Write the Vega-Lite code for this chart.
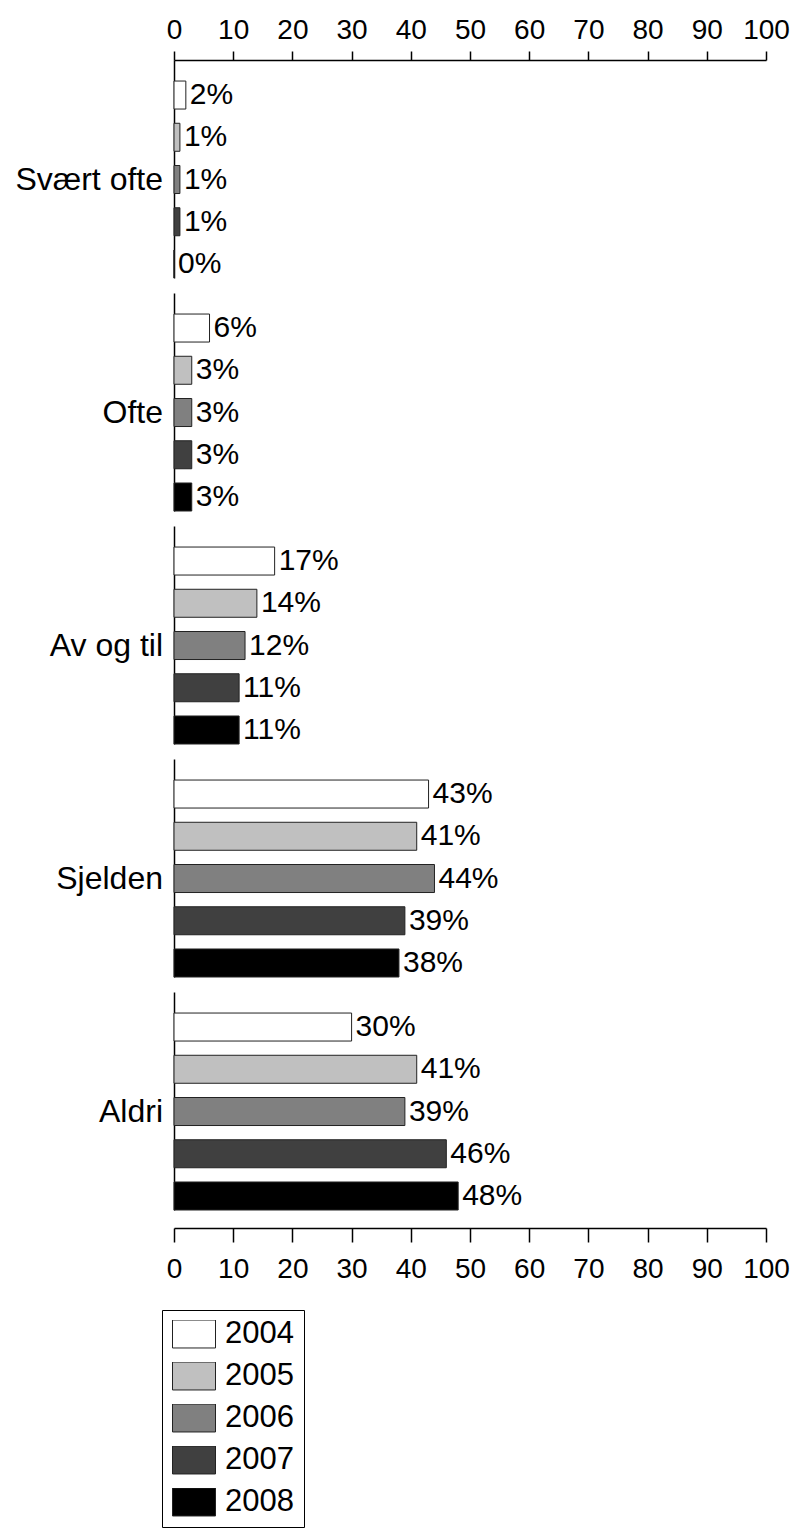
{
  "$schema": "https://vega.github.io/schema/vega-lite/v6.json",
  "padding": {"left": 15, "top": 16, "right": 5, "bottom": 5},
  "background": "white",
  "data": {"values": [
    {"freq": "Svært ofte", "year": "2004", "pct": 2},
    {"freq": "Svært ofte", "year": "2005", "pct": 1},
    {"freq": "Svært ofte", "year": "2006", "pct": 1},
    {"freq": "Svært ofte", "year": "2007", "pct": 1},
    {"freq": "Svært ofte", "year": "2008", "pct": 0},
    {"freq": "Ofte", "year": "2004", "pct": 6},
    {"freq": "Ofte", "year": "2005", "pct": 3},
    {"freq": "Ofte", "year": "2006", "pct": 3},
    {"freq": "Ofte", "year": "2007", "pct": 3},
    {"freq": "Ofte", "year": "2008", "pct": 3},
    {"freq": "Av og til", "year": "2004", "pct": 17},
    {"freq": "Av og til", "year": "2005", "pct": 14},
    {"freq": "Av og til", "year": "2006", "pct": 12},
    {"freq": "Av og til", "year": "2007", "pct": 11},
    {"freq": "Av og til", "year": "2008", "pct": 11},
    {"freq": "Sjelden", "year": "2004", "pct": 43},
    {"freq": "Sjelden", "year": "2005", "pct": 41},
    {"freq": "Sjelden", "year": "2006", "pct": 44},
    {"freq": "Sjelden", "year": "2007", "pct": 39},
    {"freq": "Sjelden", "year": "2008", "pct": 38},
    {"freq": "Aldri", "year": "2004", "pct": 30},
    {"freq": "Aldri", "year": "2005", "pct": 41},
    {"freq": "Aldri", "year": "2006", "pct": 39},
    {"freq": "Aldri", "year": "2007", "pct": 46},
    {"freq": "Aldri", "year": "2008", "pct": 48}
  ]},
  "facet": {
    "row": {
      "field": "freq", "type": "nominal",
      "sort": ["Svært ofte", "Ofte", "Av og til", "Sjelden", "Aldri"],
      "header": {"title": null, "labels": false}
    }
  },
  "spacing": 14,
  "resolve": {"scale": {"y": "independent"}},
  "spec": {
    "width": 592,
    "height": 218,
    "layer": [
      {
        "mark": {"type": "bar", "stroke": "#222", "strokeWidth": 1},
        "encoding": {
          "y": {"field": "year", "type": "nominal",
                "scale": {"paddingInner": 0.337, "paddingOuter": 0.249, "align": 1},
                "axis": {"labels": false, "ticks": false, "title": null, "domainColor": "black", "domainWidth": 1.5}},
          "x": {"field": "pct", "type": "quantitative",
                "scale": {"domain": [0, 100], "nice": false},
                "axis": {"orient": "bottom", "values": [0,10,20,30,40,50,60,70,80,90,100], "title": null, "grid": false,
                         "offset": 17, "domainColor": "black", "domainWidth": 1.5, "tickColor": "black", "tickWidth": 1.5,
                         "tickSize": 14, "labelFontSize": 28, "labelFont": "Liberation Sans", "labelColor": "black",
                         "labelPadding": 13, "labelFlush": false}},
          "fill": {"field": "year", "type": "nominal",
                   "scale": {"domain": ["2004","2005","2006","2007","2008"], "range": ["#ffffff","#c0c0c0","#808080","#404040","#000000"]},
                   "legend": {"orient": "none", "legendX": -12, "legendY": 1250, "title": null,
                              "symbolType": "M-1,-0.65L1,-0.65L1,0.65L-1,0.65Z", "symbolSize": 1849,
                              "symbolStrokeColor": "#222", "symbolStrokeWidth": 1, "symbolOpacity": 1,
                              "labelFontSize": 31, "labelFont": "Liberation Sans", "labelColor": "black",
                              "labelOffset": 9, "rowPadding": 11, "clipHeight": 28, "padding": 10,
                              "strokeColor": "black", "fillColor": "white"}}
        }
      },
      {
        "mark": {"type": "text", "align": "left", "baseline": "middle", "dx": 4, "fontSize": 30,
                 "font": "Liberation Sans", "color": "black", "text": {"expr": "datum.pct + '%'"}},
        "encoding": {
          "y": {"field": "year", "type": "nominal"},
          "x": {"field": "pct", "type": "quantitative",
                "axis": {"orient": "top", "values": [0,10,20,30,40,50,60,70,80,90,100], "title": null, "grid": false,
                         "offset": 0, "domainColor": "black", "domainWidth": 1.5, "tickColor": "black", "tickWidth": 1.5,
                         "tickSize": 9, "labelFontSize": 28, "labelFont": "Liberation Sans", "labelColor": "black",
                         "labelPadding": 7, "labelFlush": false}}
        }
      },
      {
        "transform": [{"filter": {"field": "year", "equal": "2006"}}],
        "mark": {"type": "text", "align": "right", "baseline": "middle", "dx": -11, "fontSize": 32,
                 "font": "Liberation Sans", "color": "black"},
        "encoding": {
          "y": {"field": "year", "type": "nominal"},
          "x": {"datum": 0, "type": "quantitative", "axis": null},
          "text": {"field": "freq"}
        }
      }
    ]
  },
  "config": {
    "view": {"stroke": null},
    "font": "Liberation Sans"
  }
}
